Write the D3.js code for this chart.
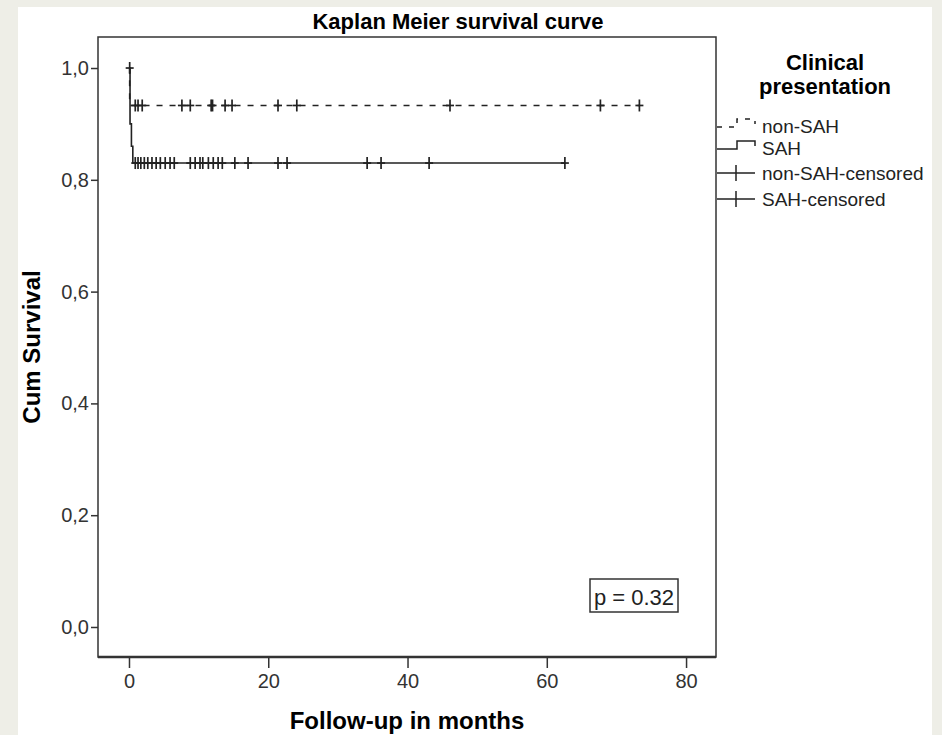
<!DOCTYPE html>
<html>
<head>
<meta charset="utf-8">
<script src="https://cdn.jsdelivr.net/npm/d3@7"></script>
<style>
  body { margin: 0; background: #eeeee7; }
  svg { display: block; font-family: "Liberation Sans", Arial, sans-serif; }
  .tick text { fill: #333; font-size: 20px; }
  .tick line { stroke: #333; stroke-width: 1.5; }
</style>
</head>
<body>
<div id="chart"></div>
<script>
// Data
var nonSahTimes = [0, 0.1];
var nonSahSurv = [1, 0.933];
var nonSahEnd = 73.3;

var sahTimes = [0, 0.15, 0.35, 0.55];
var sahSurv = [1, 0.9, 0.86, 0.83];
var sahEnd = 62.6;

var nonSahCensored = [0.9, 1.3, 1.9, 7.6, 8.8, 11.8, 12.0, 13.8, 14.8, 21.4, 24.1, 46.1, 67.7, 73.3];
var sahCensored = [0.1, 0.9, 1.3, 1.7, 2.2, 2.7, 3.3, 3.9, 4.5, 5.2, 5.9, 6.5, 8.8, 9.5, 10.2, 10.6,
  11.4, 12.1, 12.8, 13.4, 15.2, 17.1, 21.4, 22.7, 34.2, 36.2, 43.1, 62.6];

var xTicks = [0, 20, 40, 60, 80];
var yTicks = [0, 0.2, 0.4, 0.6, 0.8, 1.0];
var legendLabels = ["non-SAH", "SAH", "non-SAH-censored", "SAH-censored"];

var svgWidth = 942;
var svgHeight = 735;

var frame = { left: 98, top: 37, right: 716, bottom: 657 };

var svg = d3.select("#chart")
  .append("svg")
  .attr("width", svgWidth)
  .attr("height", svgHeight);

// white panel on grey page
svg.append("rect")
  .attr("x", 18)
  .attr("y", 7)
  .attr("width", 914)
  .attr("height", svgHeight - 7)
  .attr("fill", "#fff");

var xScale = d3.scaleLinear()
  .domain([-4.45, 84.3])
  .range([frame.left, frame.right]);

var yScale = d3.scaleLinear()
  .domain([-0.0537, 1.0555])
  .range([frame.bottom, frame.top]);

// axes
var xAxis = d3.axisBottom(xScale)
  .tickValues(xTicks)
  .tickSize(11)
  .tickSizeOuter(0)
  .tickPadding(6);

var yAxis = d3.axisLeft(yScale)
  .tickValues(yTicks)
  .tickSize(7)
  .tickSizeOuter(0)
  .tickPadding(2)
  .tickFormat(d => d3.format(".1f")(d).replace(".", ","));

svg.append("g")
  .attr("transform", `translate(0, ${frame.bottom})`)
  .call(xAxis)
  .call(g => g.select(".domain").remove());

svg.append("g")
  .attr("transform", `translate(${frame.left}, 0)`)
  .call(yAxis)
  .call(g => g.select(".domain").remove());

// plot frame
svg.append("rect")
  .attr("x", frame.left)
  .attr("y", frame.top)
  .attr("width", frame.right - frame.left)
  .attr("height", frame.bottom - frame.top)
  .attr("fill", "none")
  .attr("stroke", "#333")
  .attr("stroke-width", 1.5);

svg.append("line")
  .attr("x1", frame.left)
  .attr("x2", frame.right)
  .attr("y1", frame.bottom)
  .attr("y2", frame.bottom)
  .attr("stroke", "#333")
  .attr("stroke-width", 2.5);

// survival curves
function stepPoints(times, surv, end) {
  var pts = times.map((t, i) => [t, surv[i]]);
  pts.push([end, surv[surv.length - 1]]);
  return pts;
}

function survAt(times, surv, t) {
  var s = surv[0];
  times.forEach(function (tt, i) {
    if (tt <= t) s = surv[i];
  });
  return s;
}

var line = d3.line()
  .x(d => xScale(d[0]))
  .y(d => yScale(d[1]))
  .curve(d3.curveStepAfter);

svg.append("path")
  .datum(stepPoints(nonSahTimes, nonSahSurv, nonSahEnd))
  .attr("d", line)
  .attr("fill", "none")
  .attr("stroke", "#222")
  .attr("stroke-width", 1.6)
  .attr("stroke-dasharray", "6,7");

svg.append("path")
  .datum(stepPoints(sahTimes, sahSurv, sahEnd))
  .attr("d", line)
  .attr("fill", "none")
  .attr("stroke", "#222")
  .attr("stroke-width", 1.6);

// censor marks
function drawCensors(data, times, surv) {
  var g = svg.append("g")
    .attr("stroke", "#222")
    .attr("stroke-width", 1.7);
  data.forEach(function (t) {
    var cx = xScale(t);
    var cy = yScale(survAt(times, surv, t));
    g.append("line").attr("x1", cx).attr("x2", cx).attr("y1", cy - 6).attr("y2", cy + 6);
    g.append("line").attr("x1", cx - 4).attr("x2", cx + 4).attr("y1", cy).attr("y2", cy);
  });
}

drawCensors(nonSahCensored, nonSahTimes, nonSahSurv);
drawCensors(sahCensored, sahTimes, sahSurv);

// titles
svg.append("text")
  .attr("x", 458)
  .attr("y", 29)
  .attr("text-anchor", "middle")
  .attr("font-size", 22)
  .attr("font-weight", "bold")
  .text("Kaplan Meier survival curve");

svg.append("text")
  .attr("transform", `translate(${(frame.left + frame.right) / 2}, 729)`)
  .attr("text-anchor", "middle")
  .attr("font-size", 24)
  .attr("font-weight", "bold")
  .text("Follow-up in months");

svg.append("text")
  .attr("transform", `translate(40, ${(frame.top + frame.bottom) / 2}) rotate(-90)`)
  .attr("text-anchor", "middle")
  .attr("font-size", 24)
  .attr("font-weight", "bold")
  .text("Cum Survival");

// p value box
svg.append("rect")
  .attr("x", 590)
  .attr("y", 579)
  .attr("width", 88)
  .attr("height", 33)
  .attr("fill", "#fff")
  .attr("stroke", "#333")
  .attr("stroke-width", 1.5);

svg.append("text")
  .attr("x", 634)
  .attr("y", 605)
  .attr("text-anchor", "middle")
  .attr("font-size", 22)
  .attr("fill", "#222")
  .text("p = 0.32");

// legend
var legend = svg.append("g");

legend.append("text")
  .attr("x", 825)
  .attr("y", 70)
  .attr("text-anchor", "middle")
  .attr("font-size", 22)
  .attr("font-weight", "bold")
  .text("Clinical");

legend.append("text")
  .attr("x", 825)
  .attr("y", 94)
  .attr("text-anchor", "middle")
  .attr("font-size", 22)
  .attr("font-weight", "bold")
  .text("presentation");

var legendY = [126, 148, 173, 199];

legend.selectAll("text.item")
  .data(legendLabels)
  .enter()
  .append("text")
  .classed("item", true)
  .attr("x", 762)
  .attr("y", (d, i) => legendY[i] + 7)
  .attr("font-size", 19)
  .attr("fill", "#222")
  .text(d => d);

// step symbols
[0, 1].forEach(function (i) {
  var y = legendY[i];
  legend.append("path")
    .attr("d", `M717,${y + 1}H737V${y - 7}H755V${y - 2}`)
    .attr("fill", "none")
    .attr("stroke", "#222")
    .attr("stroke-width", 1.5)
    .attr("stroke-dasharray", i === 0 ? "5,7" : null);
});

// censor symbols
[2, 3].forEach(function (i) {
  var y = legendY[i];
  legend.append("path")
    .attr("d", `M717,${y}H755M736,${y - 8}V${y + 8}`)
    .attr("fill", "none")
    .attr("stroke", "#222")
    .attr("stroke-width", 1.5);
});
</script>
</body>
</html>
